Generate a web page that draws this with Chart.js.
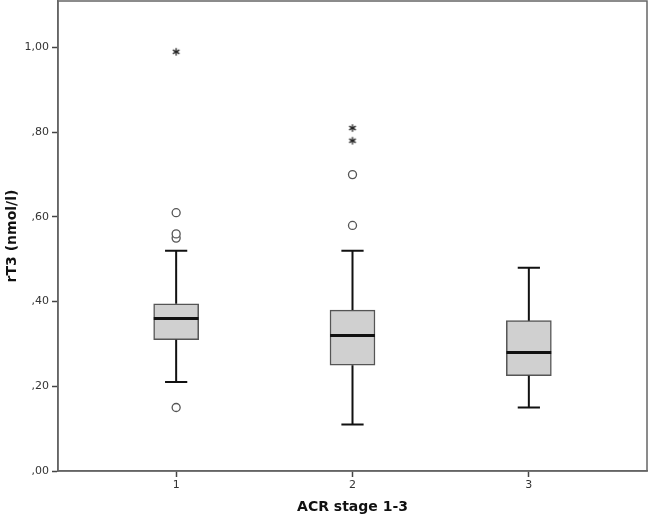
<!DOCTYPE html>
<html>
<head>
<meta charset="utf-8">
<script src="https://cdn.jsdelivr.net/npm/chart.js@4/dist/chart.umd.min.js"></script>
<style>
  html, body { margin: 0; padding: 0; background: #fff; }
  #wrap { width: 649px; height: 520px; }
</style>
</head>
<body>
<div id="wrap"><canvas id="boxChart"></canvas></div>
<script>
// ACR stage groups and box statistics (rT3, nmol/l)
const groups = [1, 2, 3];
const q1 = [0.31, 0.25, 0.225];
const q3 = [0.395, 0.38, 0.355];
const medians = [0.36, 0.32, 0.28];
const whiskerLow = [0.21, 0.11, 0.15];
const whiskerHigh = [0.52, 0.52, 0.48];
const circleOutliers = [[0.15, 0.55, 0.56, 0.61], [0.58, 0.70], []];
const starOutliers = [[0.99], [0.78, 0.81], []];
const yTicks = [0, 0.2, 0.4, 0.6, 0.8, 1.0];

const halfBox = 0.127;
const halfCap = 0.063;
const gap = g => ({x: g, y: null});

const medianLines = groups.flatMap((g, i) => [
    {x: g - halfBox, y: medians[i]}, {x: g + halfBox, y: medians[i]}, gap(g)
]);
const whiskerLines = groups.flatMap((g, i) => [
    {x: g, y: q3[i]}, {x: g, y: whiskerHigh[i]}, gap(g),
    {x: g - halfCap, y: whiskerHigh[i]}, {x: g + halfCap, y: whiskerHigh[i]}, gap(g),
    {x: g, y: q1[i]}, {x: g, y: whiskerLow[i]}, gap(g),
    {x: g - halfCap, y: whiskerLow[i]}, {x: g + halfCap, y: whiskerLow[i]}, gap(g)
]);
const circlePts = groups.flatMap((g, i) => circleOutliers[i].map(v => ({x: g, y: v})));
const starPts = groups.flatMap((g, i) => starOutliers[i].map(v => ({x: g, y: v})));

// SPSS-like asterisk marker
const star = document.createElement('canvas');
star.width = 10; star.height = 10;
const sc = star.getContext('2d');
sc.strokeStyle = '#222';
sc.lineWidth = 1.3;
[90, 30, 150].forEach(a => {
    const r = 3.8, t = a * Math.PI / 180;
    sc.beginPath();
    sc.moveTo(5 - r * Math.cos(t), 5 - r * Math.sin(t));
    sc.lineTo(5 + r * Math.cos(t), 5 + r * Math.sin(t));
    sc.stroke();
});

const framePlugin = {
    id: 'frame',
    afterDatasetsDraw(chart) {
        const a = chart.chartArea, c = chart.ctx;
        c.save();
        c.strokeStyle = '#666';
        c.lineWidth = 1.5;
        c.strokeRect(a.left, a.top, a.right - a.left, a.bottom - a.top);
        c.restore();
    }
};

const ctx = document.getElementById('boxChart').getContext('2d');
const boxChart = new Chart(ctx, {
    type: 'bar',
    data: {
        datasets: [{
            type: 'bar',
            label: 'box',
            data: groups.map((g, i) => ({x: g, y: [q1[i], q3[i]]})),
            backgroundColor: '#d0d0d0',
            borderColor: '#555',
            borderWidth: 1.5,
            borderSkipped: false,
            barThickness: 45,
            order: 5
        }, {
            type: 'line',
            label: 'whiskers',
            data: whiskerLines,
            borderColor: '#111',
            borderWidth: 2,
            pointRadius: 0,
            fill: false,
            spanGaps: false,
            order: 3
        }, {
            type: 'line',
            label: 'median',
            data: medianLines,
            borderColor: '#111',
            borderWidth: 3,
            pointRadius: 0,
            fill: false,
            spanGaps: false,
            order: 1
        }, {
            type: 'scatter',
            label: 'outliers',
            data: circlePts,
            pointStyle: 'circle',
            pointRadius: 4,
            pointBackgroundColor: '#fff',
            pointBorderColor: '#555',
            pointBorderWidth: 1.3,
            order: 0
        }, {
            type: 'scatter',
            label: 'extremes',
            data: starPts,
            pointStyle: star,
            order: 0
        }]
    },
    options: {
        responsive: true,
        maintainAspectRatio: false,
        animation: false,
        layout: { autoPadding: false, padding: { top: 1, right: 2, left: 0, bottom: 0 } },
        plugins: { legend: { display: false }, tooltip: { enabled: false } },
        scales: {
            x: {
                type: 'linear',
                offset: false,
                min: 0.33,
                max: 3.67,
                afterBuildTicks: s => { s.ticks = groups.map(v => ({value: v})); },
                afterFit: s => { s.height = 49; s.paddingLeft = 0; s.paddingRight = 0; },
                grid: { drawOnChartArea: false, offset: false, tickLength: 6, color: '#444', tickWidth: 1.5 },
                border: { color: '#666', width: 1.5 },
                ticks: { color: '#333', font: { family: 'DejaVu Sans', size: 11 }, padding: 2,
                         callback: v => String(v) },
                title: { display: true, text: 'ACR stage 1-3', color: '#111',
                         font: { family: 'DejaVu Sans', size: 14, weight: 'bold' } }
            },
            y: {
                min: 0,
                max: 1.11,
                afterBuildTicks: s => { s.ticks = yTicks.map(v => ({value: v})); },
                afterFit: s => { s.width = 58; s.paddingTop = 0; s.paddingBottom = 0; },
                grid: { drawOnChartArea: false, tickLength: 6, color: '#444', tickWidth: 1.5 },
                border: { color: '#666', width: 1.5 },
                ticks: { color: '#333', font: { family: 'DejaVu Sans', size: 11 }, padding: 3,
                         callback: v => v.toFixed(2).replace('.', ',').replace(/^0/, '') },
                title: { display: true, text: 'rT3 (nmol/l)', color: '#111',
                         font: { family: 'DejaVu Sans', size: 14, weight: 'bold' } }
            }
        }
    },
    plugins: [framePlugin]
});
</script>
</body>
</html>
